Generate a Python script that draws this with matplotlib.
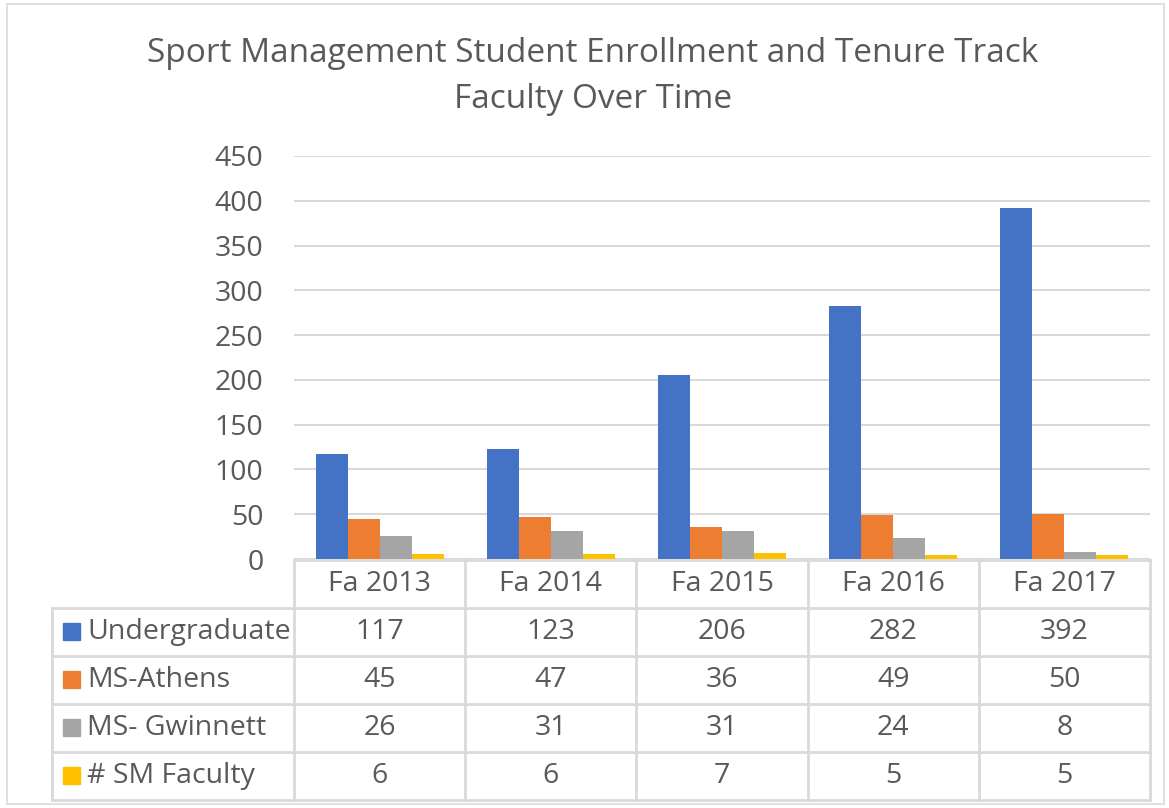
import matplotlib.pyplot as plt
from matplotlib.patches import Rectangle
import numpy as np

plt.rcParams["font.family"] = ["Open Sans", "DejaVu Sans"]

# data
categories = ["Fa 2013", "Fa 2014", "Fa 2015", "Fa 2016", "Fa 2017"]
series_names = ["Undergraduate", "MS-Athens", "MS- Gwinnett", "# SM Faculty"]
undergraduate = [117, 123, 206, 282, 392]
ms_athens = [45, 47, 36, 49, 50]
ms_gwinnett = [26, 31, 31, 24, 8]
sm_faculty = [6, 6, 7, 5, 5]
colors = ["#4472C4", "#ED7D31", "#A5A5A5", "#FFC000"]
yticks = [0, 50, 100, 150, 200, 250, 300, 350, 400, 450]

series = [undergraduate, ms_athens, ms_gwinnett, sm_faculty]

W, H = 1169, 808
fig = plt.figure(figsize=(W / 100, H / 100), dpi=100)
text_color = "#595959"
line_color = "#D9D9D9"
fs = 20.5

# plot area in pixels
left, right, top, bottom = 294, 1150, 156, 559
ax = fig.add_axes([left / W, 1 - bottom / H, (right - left) / W, (bottom - top) / H])

x = np.arange(len(categories))
bar_w = 0.187
for i, (vals, c) in enumerate(zip(series, colors)):
    ax.bar(x + (i - 1.5) * bar_w, vals, width=bar_w, color=c, zorder=3)

ax.set_xlim(-0.5, len(categories) - 0.5)
ax.set_ylim(0, 450)
ax.set_yticks(yticks)
ax.set_xticks([])
ax.grid(axis="y", color=line_color, linewidth=1.5, zorder=0)
for s in ax.spines.values():
    s.set_visible(False)
ax.tick_params(axis="y", length=0, pad=22, labelsize=fs, labelcolor=text_color)

# overlay axes in pixel coordinates for the data table and title
ov = fig.add_axes([0, 0, 1, 1])
ov.set_xlim(0, W)
ov.set_ylim(H, 0)
ov.axis("off")
ov.patch.set_alpha(0)

ov.add_patch(Rectangle((7, 4), 1157, 800, fill=False, edgecolor=line_color, linewidth=1.2))

ov.text(593, 53, "Sport Management Student Enrollment and Tenure Track",
        ha="center", va="center", fontsize=24, color=text_color)
ov.text(593, 99, "Faculty Over Time", ha="center", va="center",
        fontsize=24, color=text_color)

col_w = (right - left) / len(categories)
row_h = 48
tbl_left = 52
header_top = bottom + 1
rows_top = header_top + row_h
tbl_bottom = rows_top + row_h * len(series)
lw = 2

# table grid
ov.plot([left, right], [header_top, header_top], color=line_color, lw=lw)
for j in range(len(categories) + 1):
    ov.plot([left + j * col_w] * 2, [header_top, tbl_bottom], color=line_color, lw=lw)
for r in range(len(series) + 1):
    ov.plot([tbl_left, right], [rows_top + r * row_h] * 2, color=line_color, lw=lw)
ov.plot([tbl_left] * 2, [rows_top, tbl_bottom], color=line_color, lw=lw)

for j, cat in enumerate(categories):
    ov.text(left + (j + 0.5) * col_w, header_top + row_h / 2, cat,
            ha="center", va="center", fontsize=fs, color=text_color)

for r, (name, vals, c) in enumerate(zip(series_names, series, colors)):
    yc = rows_top + (r + 0.5) * row_h
    ov.add_patch(Rectangle((63, yc - 9), 17, 17, color=c))
    ov.text(87, yc, name, ha="left", va="center", fontsize=fs, color=text_color)
    for j, v in enumerate(vals):
        ov.text(left + (j + 0.5) * col_w, yc, str(v),
                ha="center", va="center", fontsize=fs, color=text_color)

fig.savefig("out.png", dpi=100)
